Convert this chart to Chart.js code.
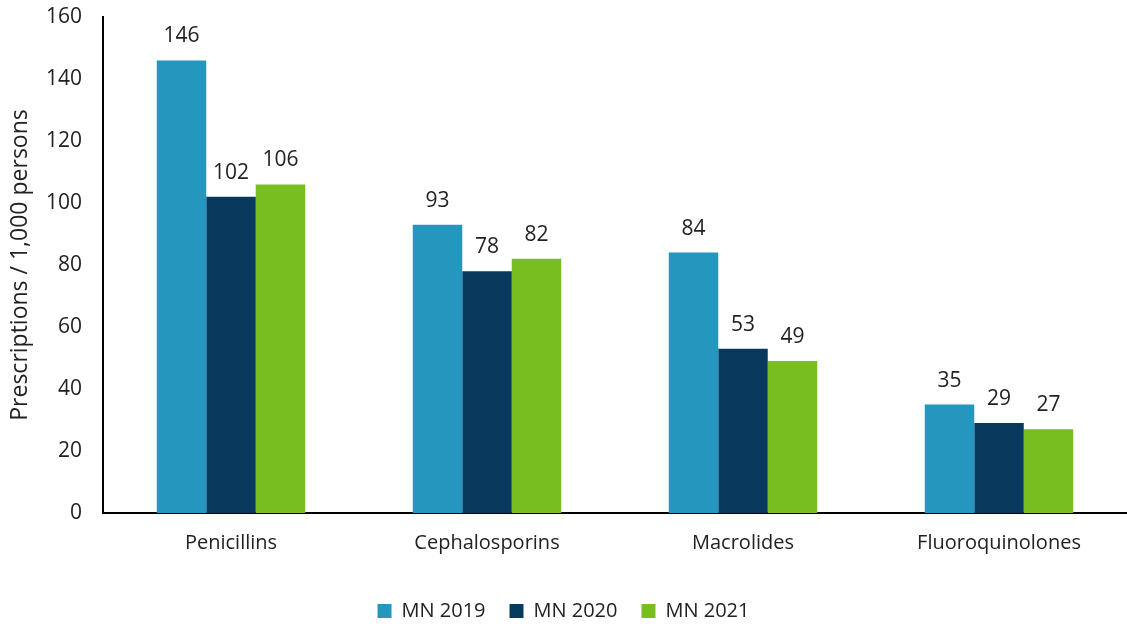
<!DOCTYPE html>
<html>
<head>
<meta charset="utf-8">
<script src="https://cdn.jsdelivr.net/npm/chart.js@4/dist/chart.umd.min.js"></script>
<style>
  html, body { margin: 0; padding: 0; background: #fff; }
  #wrap { width: 1127px; height: 627px; }
</style>
</head>
<body>
<div id="wrap"><canvas id="chart"></canvas></div>
<script>
const categories = ['Penicillins', 'Cephalosporins', 'Macrolides', 'Fluoroquinolones'];
const mn2019 = [146, 93, 84, 35];
const mn2020 = [102, 78, 53, 29];
const mn2021 = [106, 82, 49, 27];
const seriesNames = ['MN 2019', 'MN 2020', 'MN 2021'];
const yTicks = { min: 0, max: 160, step: 20 };

const FONT = '"Open Sans", sans-serif';

// draw the value above each bar
const barLabels = {
  id: 'barLabels',
  afterDatasetsDraw(chart) {
    const ctx = chart.ctx;
    ctx.save();
    ctx.font = '21px ' + FONT;
    ctx.fillStyle = '#222';
    ctx.textAlign = 'center';
    ctx.textBaseline = 'alphabetic';
    chart.data.datasets.forEach((ds, i) => {
      chart.getDatasetMeta(i).data.forEach((bar, j) => {
        ctx.fillText(ds.data[j], bar.x, bar.y - 18);
      });
    });
    ctx.restore();
  }
};

new Chart(document.getElementById('chart'), {
  type: 'bar',
  data: {
    labels: categories,
    datasets: [
      { label: seriesNames[0], data: mn2019, backgroundColor: '#2596BE' },
      { label: seriesNames[1], data: mn2020, backgroundColor: '#083A5E' },
      { label: seriesNames[2], data: mn2021, backgroundColor: '#78BE20' },
    ],
  },
  options: {
    responsive: true,
    maintainAspectRatio: false,
    animation: false,
    layout: { padding: { top: 0, right: 0, left: 0, bottom: -4 } },
    datasets: { bar: { categoryPercentage: 0.58, barPercentage: 1.0 } },
    plugins: {
      legend: {
        position: 'bottom',
        labels: {
          font: { family: FONT, size: 20 },
          color: '#222',
          boxWidth: 14,
          boxHeight: 14,
          padding: 24,
        },
      },
      tooltip: { enabled: false },
    },
    scales: {
      x: {
        grid: { display: false, drawTicks: false },
        border: { color: '#000', width: 2 },
        ticks: { font: { family: FONT, size: 20 }, color: '#222', padding: 18 },
        afterFit(scale) { scale.height += 4; },
      },
      y: {
        min: yTicks.min,
        max: yTicks.max,
        grid: { display: false, drawTicks: false },
        border: { color: '#000', width: 2 },
        ticks: { stepSize: yTicks.step, font: { family: FONT, size: 21 }, color: '#222', padding: 21 },
        title: {
          display: true,
          text: 'Prescriptions / 1,000 persons',
          font: { family: FONT, size: 23 },
          color: '#222',
          padding: { top: 7, bottom: 0 },
        },
        afterFit(scale) {
          scale.width = 103;
          scale.paddingTop = 17;
          scale.paddingBottom = 10;
        },
      },
    },
  },
  plugins: [barLabels],
});
</script>
</body>
</html>
